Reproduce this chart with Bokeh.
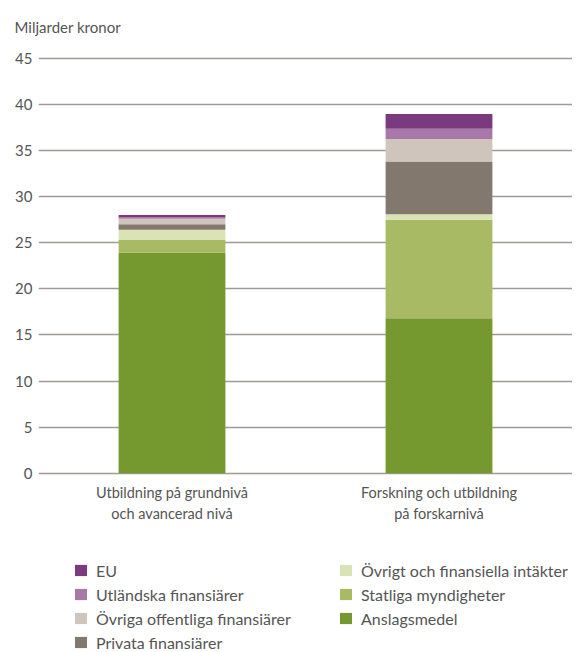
from bokeh.plotting import figure
from bokeh.models import Legend, LegendItem, Range1d
from bokeh.embed import file_html
from bokeh.resources import INLINE

categories = ["Utbildning på grundnivå\noch avancerad nivå", "Forskning och utbildning\npå forskarnivå"]
series = ["Anslagsmedel", "Statliga myndigheter", "Övrigt och finansiella intäkter",
          "Privata finansiärer", "Övriga offentliga finansiärer", "Utländska finansiärer", "EU"]
anslagsmedel = [23.9, 16.8]
statliga = [1.4, 10.7]
ovrigt = [1.1, 0.6]
privata = [0.6, 5.7]
ovriga_offentliga = [0.6, 2.45]
utlandska = [0.2, 1.1]
eu = [0.2, 1.6]
y_ticks = [0, 5, 10, 15, 20, 25, 30, 35, 40, 45]

colors = ["#76992F", "#A9BA65", "#D9E3B5", "#82786E", "#CFC5BC", "#A878A8", "#7B3A7E"]

data = {"cat": categories}
for name, vals in zip(series, [anslagsmedel, statliga, ovrigt, privata, ovriga_offentliga, utlandska, eu]):
    data[name] = vals

FONT = "Lato"
TXT = "#555555"

# the frame reaches below zero so that the legend sits inside it
p = figure(x_range=categories, y_range=Range1d(-19.65, 45.3), frame_width=534, frame_height=599,
           output_backend="svg", toolbar_location=None,
           min_border_left=38, min_border_right=0, min_border_top=0, min_border_bottom=0)

renderers = p.vbar_stack(series, x="cat", width=0.4, color=colors, line_color=None, source=data)

p.title.text = "Miljarder kronor"
p.title.text_font = FONT
p.title.text_font_size = "15px"
p.title.text_font_style = "normal"
p.title.text_color = TXT
p.title.vertical_align = "top"
p.title.offset = -24
p.title.standoff = 35

p.outline_line_color = None
p.xgrid.grid_line_color = None
p.ygrid.ticker = y_ticks
p.ygrid.grid_line_color = "#9E9A96"
p.ygrid.grid_line_width = 1.4
p.yaxis.ticker = y_ticks
p.yaxis.axis_line_color = None
p.yaxis.major_tick_line_color = None
p.yaxis.minor_tick_line_color = None
p.yaxis.major_tick_out = 0
p.yaxis.major_label_text_font = FONT
p.yaxis.major_label_text_font_size = "15px"
p.yaxis.major_label_text_color = TXT
p.yaxis.major_label_standoff = 6

p.xaxis.fixed_location = 0
p.xaxis.axis_line_color = None
p.xaxis.major_tick_line_color = None
p.xaxis.major_tick_out = 0
p.xaxis.major_label_text_font = FONT
p.xaxis.major_label_text_font_size = "14.5px"
p.xaxis.major_label_text_color = TXT
p.xaxis.major_label_standoff = 11

# row-major order so the columns read EU.. Privata | Övrigt.. Anslagsmedel
order = [6, 2, 5, 1, 4, 0, 3]
items = [LegendItem(label=series[i], renderers=[renderers[i]]) for i in order]
legend = Legend(items=items, orientation="horizontal", ncols=2, location=(35, 2),
                glyph_width=15, glyph_height=14, label_standoff=8, label_width=238,
                label_height=20, spacing=4, padding=0, margin=0,
                label_text_font=FONT, label_text_font_size="16px", label_text_color=TXT,
                border_line_color=None, background_fill_alpha=0)
p.add_layout(legend, "center")

open("out.html", "w").write(file_html(p, INLINE))
